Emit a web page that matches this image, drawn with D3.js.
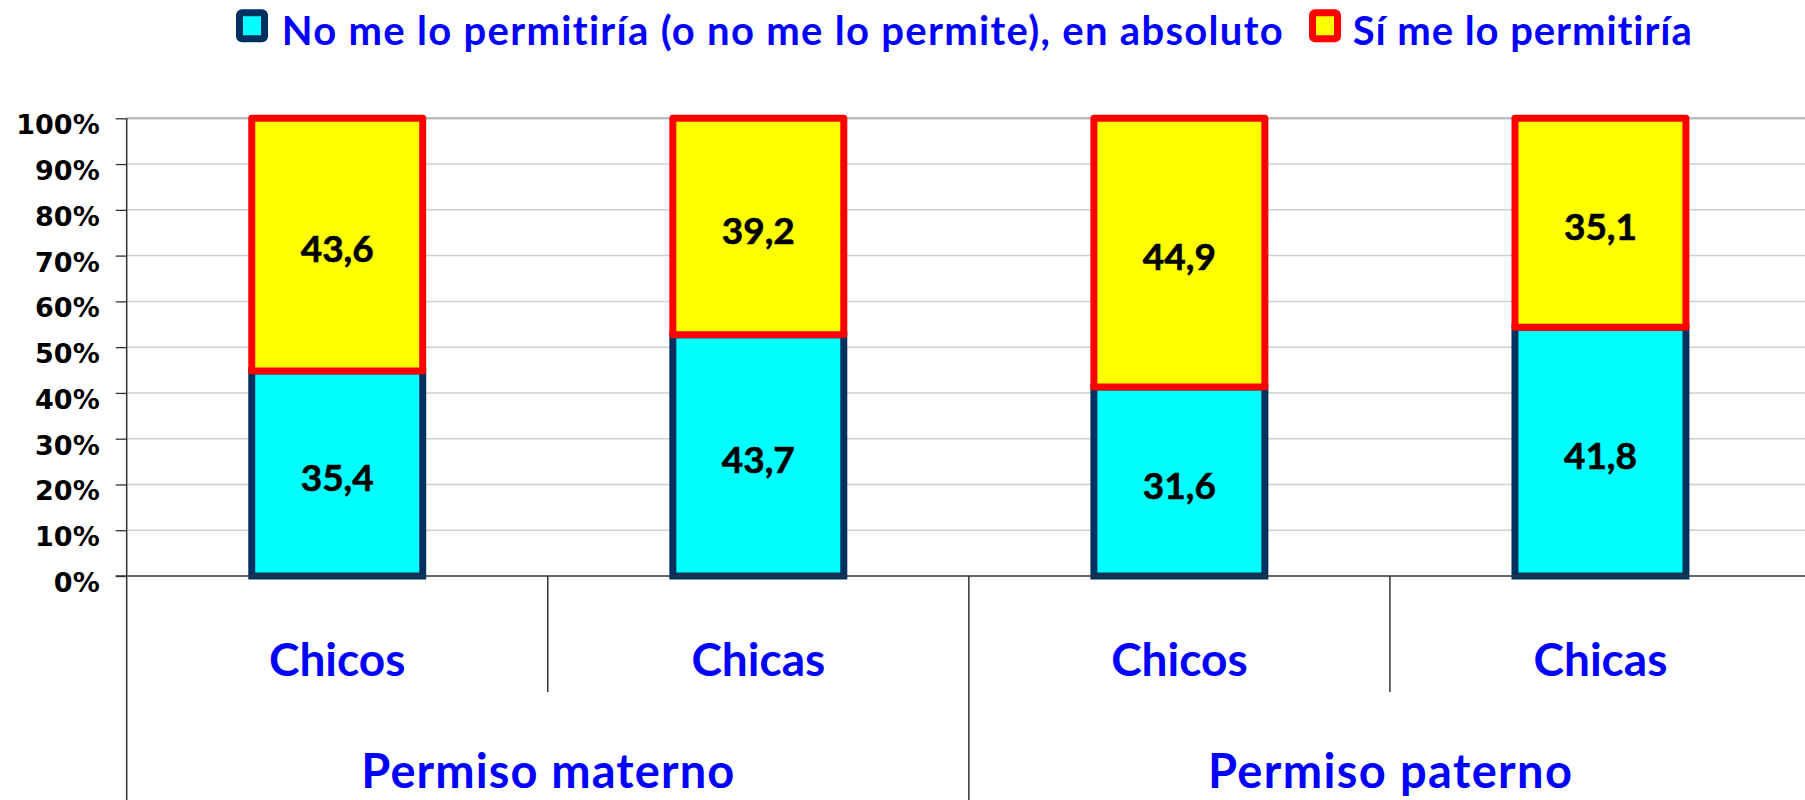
<!DOCTYPE html>
<html>
<head>
<meta charset="utf-8">
<script src="https://cdn.jsdelivr.net/npm/d3@7"></script>
<style>
  html, body { margin: 0; padding: 0; background: #fff; }
  svg { display: block; }
  text { font-variant-ligatures: none; }
</style>
</head>
<body>
<div id="chart"></div>
<script>
// 100% stacked columns: two-level category axis (sex inside leave type).
const categories = ['Chicos', 'Chicas', 'Chicos', 'Chicas'];
const groups = ['Permiso materno', 'Permiso paterno'];
const seriesNames = ['No me lo permitiría (o no me lo permite), en absoluto', 'Sí me lo permitiría'];
const noPermitiria = [35.4, 43.7, 31.6, 41.8];
const siPermitiria = [43.6, 39.2, 44.9, 35.1];
const yTicks = [0, 0.1, 0.2, 0.3, 0.4, 0.5, 0.6, 0.7, 0.8, 0.9, 1];

const W = 1805, H = 800;
const plot = { left: 126.7, right: 1811, top: 118.3, bottom: 576 };

const fills   = ['#00ffff', '#ffff00'];
const strokes = ['#03315f', '#ff0000'];
const blue = '#0000ff';

const rows = categories.map((c, i) => ({ i, no: noPermitiria[i], si: siPermitiria[i] }));
const stack = d3.stack().keys(['no', 'si']).offset(d3.stackOffsetExpand);
const layers = stack(rows);

const x = d3.scaleBand().domain(d3.range(categories.length))
    .range([plot.left, plot.right]).paddingInner(0).paddingOuter(0);
const y = d3.scaleLinear().domain([0, 1]).range([plot.bottom, plot.top]);
const barFrac = 0.406;
const barW = x.bandwidth() * barFrac;
const barX = i => x(i) + (x.bandwidth() - barW) / 2;

const svg = d3.select('#chart').append('svg')
    .attr('width', W).attr('height', H);

// Gridlines
svg.append('g').selectAll('line')
    .data(yTicks.filter(t => t > 0))
    .join('line')
    .attr('x1', plot.left).attr('x2', W)
    .attr('y1', d => y(d)).attr('y2', d => y(d))
    .attr('stroke', d => d === 1 ? '#bdbdbd' : '#cfcfcf')
    .attr('stroke-width', d => d === 1 ? 2.5 : 1.5);

// Y axis
const yAxis = d3.axisLeft(y).tickValues(yTicks)
    .tickFormat(d => Math.round(d * 100) + '%')
    .tickSize(11).tickSizeOuter(0);
const gy = svg.append('g').attr('transform', `translate(${plot.left},0)`).call(yAxis);
gy.select('.domain').remove();
gy.selectAll('.tick line').attr('stroke', '#333').attr('stroke-width', 1.3);
gy.selectAll('.tick text')
    .attr('x', -27).attr('dy', null).attr('y', 15.5)
    .style('font-family', '"DejaVu Sans", Verdana, sans-serif')
    .style('font-weight', '700')
    .style('font-size', '27px')
    .attr('fill', '#000');

// Bars
layers.forEach((layer, k) => {
    svg.append('g').selectAll('rect')
        .data(layer)
        .join('rect')
        .attr('x', d => barX(d.data.i))
        .attr('y', d => y(d[1]))
        .attr('width', barW)
        .attr('height', d => y(d[0]) - y(d[1]))
        .attr('fill', fills[k])
        .attr('stroke', strokes[k])
        .attr('stroke-width', 7)
        .attr('stroke-linejoin', k === 1 ? 'round' : 'miter');
});

// Value labels
layers.forEach((layer, k) => {
    svg.append('g').selectAll('text')
        .data(layer)
        .join('text')
        .attr('x', d => barX(d.data.i) + barW / 2)
        .attr('y', d => (y(d[0]) + y(d[1])) / 2 + 17.5)
        .attr('text-anchor', 'middle')
        .style('font-family', 'Lato, sans-serif')
        .style('font-weight', '700')
        .style('font-size', '37px')
        .attr('fill', '#000')
        .attr('stroke', '#000').attr('stroke-width', 0.6)
        .text(d => (k === 0 ? d.data.no : d.data.si).toFixed(1).replace('.', ','));
});

// Axis lines
const axisG = svg.append('g').attr('stroke', '#333').attr('stroke-width', 1.5);
axisG.append('line')
    .attr('x1', plot.left - 11).attr('x2', W)
    .attr('y1', plot.bottom).attr('y2', plot.bottom);
axisG.append('line')
    .attr('x1', plot.left).attr('x2', plot.left)
    .attr('y1', plot.top).attr('y2', H);

// Inner separators (between sexes) and group separators
const innerBottom = 692;
categories.forEach((c, i) => {
    if (i === 0) return;
    const isGroupEdge = i % 2 === 0;
    axisG.append('line')
        .attr('x1', x(i)).attr('x2', x(i))
        .attr('y1', plot.bottom).attr('y2', isGroupEdge ? H : innerBottom);
});

// Category labels
svg.append('g').selectAll('text')
    .data(categories)
    .join('text')
    .attr('x', (d, i) => x(i) + x.bandwidth() / 2)
    .attr('y', 676)
    .attr('text-anchor', 'middle')
    .style('font-family', 'Lato, sans-serif')
    .style('font-weight', '700')
    .style('font-size', '46px')
    .attr('fill', blue)
    .text(d => d);

// Group labels
svg.append('g').selectAll('text')
    .data(groups)
    .join('text')
    .attr('x', (d, g) => (x(g * 2) + x(g * 2 + 1) + x.bandwidth()) / 2)
    .attr('y', 788)
    .attr('text-anchor', 'middle')
    .attr('textLength', (d, g) => g === 0 ? 373 : 364)
    .attr('lengthAdjust', 'spacing')
    .style('font-family', 'Lato, sans-serif')
    .style('font-weight', '700')
    .style('font-size', '47px')
    .attr('fill', blue)
    .text(d => d);

// Legend
const legendItems = [
    { swatchX: 239.5, textX: 281.7, textW: 1001 },
    { swatchX: 1312.5, textX: 1352.7, textW: 339 }
];
const legend = svg.append('g');
legendItems.forEach((it, k) => {
    legend.append('rect')
        .attr('x', it.swatchX).attr('y', 12.8)
        .attr('width', 25).attr('height', 26)
        .attr('rx', 2.5)
        .attr('fill', fills[k])
        .attr('stroke', strokes[k])
        .attr('stroke-width', 7)
        .attr('stroke-linejoin', 'round');
    legend.append('text')
        .attr('x', it.textX).attr('y', 45)
        .attr('textLength', it.textW)
        .attr('lengthAdjust', 'spacing')
        .style('font-family', 'Lato, sans-serif')
        .style('font-weight', '700')
        .style('font-size', '40px')
        .attr('fill', blue)
        .text(seriesNames[k]);
});
</script>
</body>
</html>
